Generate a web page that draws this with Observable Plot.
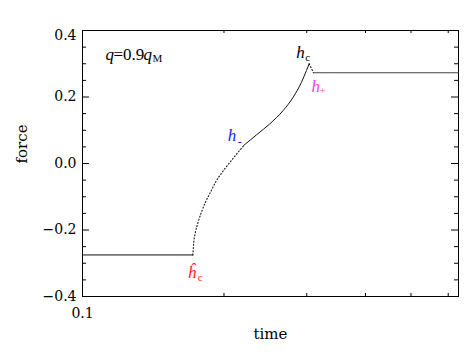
<!DOCTYPE html>
<html>
<head>
<meta charset="utf-8">
<script src="https://cdn.jsdelivr.net/npm/d3@7"></script>
<script src="https://cdn.jsdelivr.net/npm/@observablehq/plot@0.6"></script>
<style>
  html, body { margin: 0; padding: 0; background: #fff; }
  #chart svg { display: block; }
</style>
</head>
<body>
<div id="chart"></div>
<script>
// ---- data ----
const leftTime = [0.1, 0.1717];
const leftForce = [-0.275, -0.275];

const unstableTime = [0.1717, 0.1725, 0.1739, 0.1762, 0.1791, 0.1827, 0.1872, 0.1919, 0.1983, 0.2047, 0.2116, 0.2162, 0.2204];
const unstableForce = [-0.275, -0.2367, -0.2066, -0.1765, -0.1465, -0.1164, -0.0863, -0.0562, -0.0262, -0.001, 0.0241, 0.0400, 0.0545];

const stableTime = [0.2204, 0.2346, 0.2504, 0.2673, 0.2807, 0.2924, 0.2996, 0.3036];
const stableForce = [0.0545, 0.0863, 0.1194, 0.1594, 0.1994, 0.2445, 0.2797, 0.2998];

const jumpTime = [0.3036, 0.3101];
const jumpForce = [0.2998, 0.273];

const rightTime = [0.3101, 0.631];
const rightForce = [0.273, 0.273];

const yMajor = [-0.4, -0.2, 0.0, 0.2, 0.4];
const yMinor = [-0.35, -0.3, -0.25, -0.15, -0.1, -0.05, 0.05, 0.1, 0.15, 0.25, 0.3, 0.35];
const xMinor = [0.2, 0.3, 0.4, 0.5, 0.6];
const xLabels = [0.1];

const xDomain = [0.1, 0.631];
const yDomain = [-0.4, 0.4];

// ---- build ----
const toRows = (ts, fs) => ts.map((t, i) => ({t, f: fs[i]}));
const W = 469, H = 352;
const mL = 82, mR = 11, mT = 30, mB = 56;
const fw = W - mL - mR, fh = H - mT - mB;

const serif = "Liberation Serif, Times New Roman, serif";
const axisFont = "DejaVu Serif, serif";

const hcPeak = [{t: stableTime[stableTime.length - 1], f: stableForce[stableForce.length - 1]}];
const hPlus = [{t: rightTime[0], f: rightForce[0]}];
const hMinus = [{t: stableTime[0], f: stableForce[0]}];
const hHat = [{t: leftTime[1], f: leftForce[1]}];

const lab = (data, text, opts) => Plot.text(data, {x: "t", y: "f", text: () => text, textAnchor: "start", lineAnchor: "bottom", fontFamily: serif, fontStyle: "italic", ...opts});
const yTop = yMajor.filter(d => d === yDomain[1]);
const yRest = yMajor.filter(d => d !== yDomain[1]);

const plot = Plot.plot({
  width: W, height: H,
  marginLeft: mL, marginRight: mR, marginTop: mT, marginBottom: mB,
  style: {background: "#fff", color: "#000", fontFamily: axisFont},
  x: {type: "log", domain: xDomain, axis: null},
  y: {domain: yDomain, axis: null},
  marks: [
    // y tick labels
    Plot.axisY({ticks: yRest, tickSize: 0, tickPadding: 6, tickFormat: d3.format(".1f"), fontSize: 14, fontFamily: axisFont, label: null}),
    Plot.axisY({ticks: yTop, tickSize: 0, tickPadding: 6, tickFormat: d3.format(".1f"), fontSize: 14, fontFamily: axisFont, label: null, dy: 5}),
    Plot.axisX({ticks: xLabels, tickSize: 0, tickPadding: 12, tickFormat: d3.format(".1f"), fontSize: 14, fontFamily: axisFont, label: null}),
    // ticks (inward, mirrored)
    Plot.tickY(yMajor, {y: d => d, insetRight: fw - 7, stroke: "#000"}),
    Plot.tickY(yMajor, {y: d => d, insetLeft: fw - 7, stroke: "#000"}),
    Plot.tickY(yMinor, {y: d => d, insetRight: fw - 4, stroke: "#000"}),
    Plot.tickY(yMinor, {y: d => d, insetLeft: fw - 4, stroke: "#000"}),
    Plot.tickX(xMinor, {x: d => d, insetTop: fh - 3, stroke: "#000"}),
    Plot.tickX(xMinor, {x: d => d, insetBottom: fh - 3, stroke: "#000"}),
    Plot.frame({stroke: "#000"}),
    // curves
    Plot.line(toRows(leftTime, leftForce), {x: "t", y: "f", stroke: "#111", strokeWidth: 1}),
    Plot.line(toRows(unstableTime, unstableForce), {x: "t", y: "f", stroke: "#111", strokeWidth: 1.1, strokeDasharray: "1,2.2", curve: "monotone-x"}),
    Plot.line(toRows(stableTime, stableForce), {x: "t", y: "f", stroke: "#111", strokeWidth: 1, curve: "monotone-x"}),
    Plot.line(toRows(jumpTime, jumpForce), {x: "t", y: "f", stroke: "#111", strokeWidth: 1.1, strokeDasharray: "1,2.2"}),
    Plot.line(toRows(rightTime, rightForce), {x: "t", y: "f", stroke: "#444", strokeWidth: 1.2}),
    // annotations
    lab(hcPeak, "h", {fontSize: 17, dx: -13, dy: -6, fill: "#000"}),
    lab(hcPeak, "c", {fontSize: 11, fontStyle: "normal", dx: -4, dy: -3, fill: "#000"}),
    lab(hPlus, "h", {fontSize: 17, dx: -2, dy: 19, fill: "#ff3ddc"}),
    lab(hPlus, "+", {fontSize: 11, fontStyle: "normal", dx: 6, dy: 21, fill: "#ff3ddc"}),
    lab(hMinus, "h", {fontSize: 17, dx: -16, dy: -4, fill: "#1a1aff"}),
    lab(hMinus, "-", {fontSize: 12, fontStyle: "normal", dx: -6, dy: 1, fill: "#1a1aff"}),
    lab(hHat, "ĥ", {fontSize: 17, dx: -5, dy: 23, fill: "#ff1a1a"}),
    lab(hHat, "c", {fontSize: 11, fontStyle: "normal", dx: 5, dy: 26, fill: "#ff1a1a"}),
    // q = 0.9 q_M
    Plot.text([0], {frameAnchor: "top-left", text: () => "q", fontFamily: serif, fontStyle: "italic", fontSize: 17, textAnchor: "start", lineAnchor: "bottom", dx: 23, dy: 29}),
    Plot.text([0], {frameAnchor: "top-left", text: () => "=0.9", fontFamily: serif, fontSize: 17, textAnchor: "start", lineAnchor: "bottom", dx: 31, dy: 29}),
    Plot.text([0], {frameAnchor: "top-left", text: () => "q", fontFamily: serif, fontStyle: "italic", fontSize: 17, textAnchor: "start", lineAnchor: "bottom", dx: 61, dy: 29}),
    Plot.text([0], {frameAnchor: "top-left", text: () => "M", fontFamily: serif, fontSize: 11, textAnchor: "start", lineAnchor: "bottom", dx: 70, dy: 31}),
    // axis titles
    Plot.text([0], {frameAnchor: "bottom", text: () => "time", fontFamily: axisFont, fontSize: 15, lineAnchor: "bottom", dx: 0, dy: 42}),
    Plot.text([0], {frameAnchor: "left", text: () => "force", fontFamily: axisFont, fontSize: 15, rotate: -90, dx: -60, dy: 0})
  ]
});
document.getElementById("chart").appendChild(plot);
</script>
</body>
</html>
